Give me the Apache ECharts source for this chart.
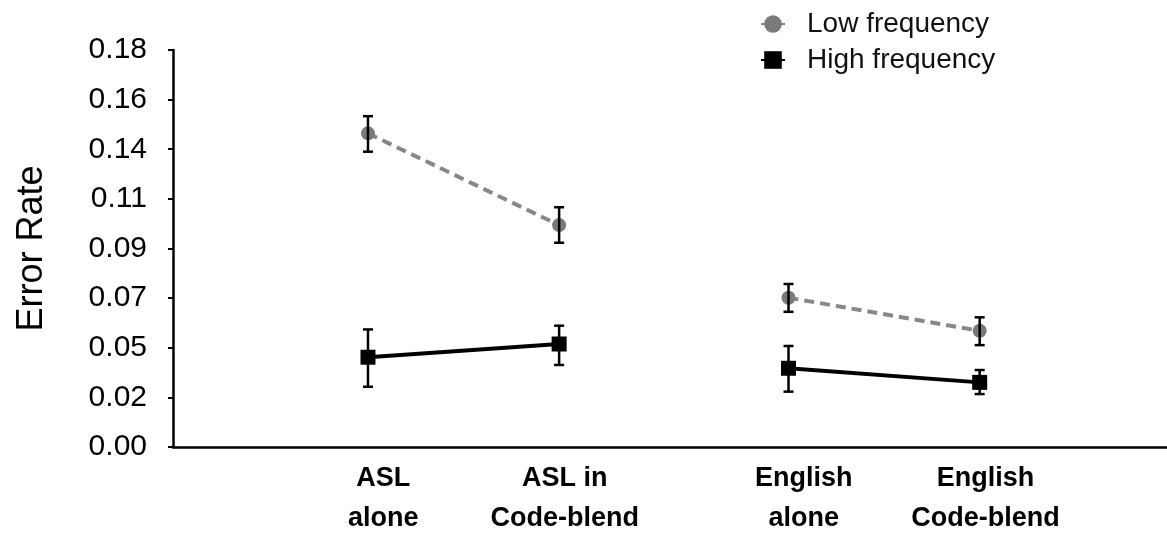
<!DOCTYPE html>
<html>
<head>
<meta charset="utf-8">
<script src="https://cdn.jsdelivr.net/npm/echarts@6/dist/echarts.min.js"></script>
<style>html,body{margin:0;padding:0;background:#fff}#c{width:1167px;height:533px}</style>
</head>
<body>
<div id="c"></div>
<script>
// Data
const categories = ['ASL\nalone', 'ASL in\nCode-blend', 'English\nalone', 'English\nCode-blend'];
const categoryX = [1.02, 2.02, 3.22, 4.22];      // x position of each condition
const categoryLabelX = [1.1, 2.05, 3.3, 4.25];   // where each label is centred
const groups = [[0, 1], [2, 3]];                 // conditions joined by a line
const lowFreq = [0.1422, 0.1006, 0.0677, 0.0527];
const lowFreqLo = [0.1339, 0.0926, 0.0613, 0.0462];
const lowFreqHi = [0.1500, 0.1087, 0.0739, 0.0588];
const highFreq = [0.0407, 0.0467, 0.0357, 0.0293];
const highFreqLo = [0.0273, 0.0372, 0.0251, 0.0240];
const highFreqHi = [0.0533, 0.0550, 0.0458, 0.0349];
const yTickLabels = ['0.00', '0.02', '0.05', '0.07', '0.09', '0.11', '0.14', '0.16', '0.18'];
const yStep = 0.0225;

const FONT = 'Liberation Sans, Arial, Helvetica, sans-serif';
const series = [];
function addLine(name, vals, style) {
  groups.forEach(g => {
    series.push(Object.assign({
      name: name,
      type: 'line',
      data: g.map(i => [categoryX[i], vals[i]]),
    }, style));
  });
}
addLine('Low frequency', lowFreq, {
  symbol: 'circle', symbolSize: 14,
  itemStyle: { color: '#7a7a7a' },
  lineStyle: { color: '#878787', width: 4, type: [10, 6] },
  z: 3
});
addLine('High frequency', highFreq, {
  symbol: 'rect', symbolSize: 15,
  itemStyle: { color: '#000' },
  lineStyle: { color: '#000', width: 4 },
  z: 3
});
function addErr(lo, hi) {
  series.push({
    type: 'custom',
    z: 4,
    silent: true,
    data: categoryX.map((x, i) => [x, lo[i], hi[i]]),
    renderItem: function (params, api) {
      const p1 = api.coord([api.value(0), api.value(1)]);
      const p2 = api.coord([api.value(0), api.value(2)]);
      const w = 5;
      const st = { stroke: '#000', lineWidth: 2.5 };
      return {
        type: 'group',
        children: [
          { type: 'line', shape: { x1: p1[0], y1: p1[1], x2: p2[0], y2: p2[1] }, style: st },
          { type: 'line', shape: { x1: p1[0] - w, y1: p1[1], x2: p1[0] + w, y2: p1[1] }, style: st },
          { type: 'line', shape: { x1: p2[0] - w, y1: p2[1], x2: p2[0] + w, y2: p2[1] }, style: st }
        ]
      };
    }
  });
}
addErr(lowFreqLo, lowFreqHi);
addErr(highFreqLo, highFreqHi);

const chart = echarts.init(document.getElementById('c'));
chart.setOption({
  backgroundColor: '#fff',
  animation: false,
  textStyle: { fontFamily: FONT },
  legend: {
    orient: 'vertical',
    left: 755, top: 5,
    itemGap: 8,
    itemWidth: 24, itemHeight: 22,
    data: ['Low frequency', 'High frequency'],
    textStyle: { fontSize: 28, color: '#111', fontFamily: FONT, padding: [0, 0, 0, 17] }
  },
  grid: { left: 173, right: 0, top: 50, bottom: 86, containLabel: false, outerBoundsMode: 'none' },
  xAxis: {
    type: 'value',
    min: 0, max: 5.2, interval: 0.05,
    splitLine: { show: false },
    axisTick: { show: false },
    axisLine: { show: true, lineStyle: { color: '#000', width: 2.5 } },
    axisLabel: {
      margin: 12,
      fontSize: 27, fontWeight: 'bold', color: '#000', lineHeight: 40,
      fontFamily: FONT,
      formatter: function (v) {
        for (let i = 0; i < categoryLabelX.length; i++) {
          if (Math.abs(v - categoryLabelX[i]) < 0.001) return categories[i];
        }
        return '';
      }
    }
  },
  yAxis: {
    type: 'value',
    min: 0, max: 0.18, interval: yStep,
    name: 'Error Rate',
    nameLocation: 'middle',
    nameGap: 123,
    nameTextStyle: { fontSize: 36, color: '#000', fontFamily: FONT },
    splitLine: { show: false },
    axisLine: { show: true, lineStyle: { color: '#000', width: 2.5 } },
    axisTick: { show: true, length: 5, lineStyle: { color: '#000', width: 2 } },
    axisLabel: {
      margin: 26,
      fontSize: 30, color: '#000', fontFamily: FONT,
      formatter: function (v) { return yTickLabels[Math.round(v / yStep)]; }
    }
  },
  series: series
});
</script>
</body>
</html>
